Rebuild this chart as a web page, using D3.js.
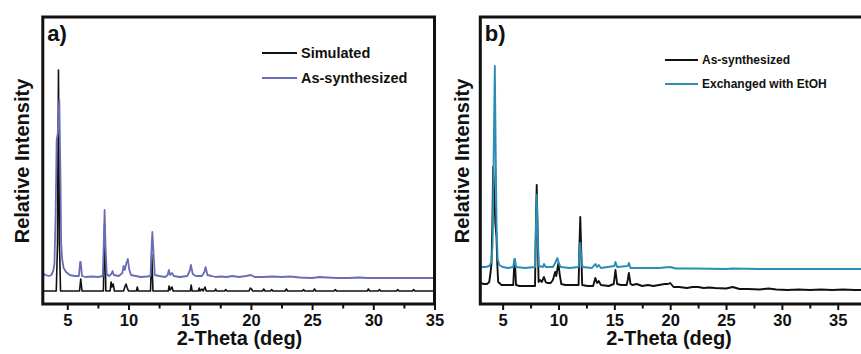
<!DOCTYPE html>
<html>
<head>
<meta charset="utf-8">
<script src="https://cdn.jsdelivr.net/npm/d3@7"></script>
<style>
  html, body { margin: 0; padding: 0; background: #fff; }
  svg { display: block; }
  text { font-family: "Liberation Sans", Arial, sans-serif; font-weight: bold; fill: #111; }
</style>
</head>
<body>
<svg id="chart" width="861" height="354"></svg>
<script>
// Powder X-ray diffraction patterns, [2-theta (deg), relative intensity (a.u.)]

// Panel a: simulated pattern
const simulatedA = [
  [3.0,13],[4.1,13],[4.2,60],[4.28,234],[4.36,60],[4.45,13],
  [6.0,13],[6.1,25],[6.2,13],
  [7.95,13],[8.05,80],[8.15,13],
  [8.5,13],[8.58,22],[8.65,17],[8.75,20],[8.85,13],
  [9.6,13],[9.7,17],[9.8,20],[9.9,16],[10.0,13],
  [10.65,13],[10.72,17],[10.8,13],
  [11.8,13],[11.9,50],[12.0,13],
  [13.25,13],[13.32,18],[13.4,14],[13.55,17],[13.65,13],
  [15.05,13],[15.12,19],[15.2,13],
  [15.7,13],[15.78,16],[15.85,13],[16.0,15],[16.1,13],[16.25,17],[16.35,13],
  [17.05,13],[17.12,15],[17.2,13],
  [17.85,13],[17.95,14.5],[18.05,13],
  [19.85,13],[19.95,16],[20.05,15],[20.15,13],
  [20.95,13],[21.05,15],[21.15,13],
  [21.6,13],[21.7,14.5],[21.8,13],
  [22.8,13],[22.9,15],[23.0,13],
  [24.2,13],[24.3,14.5],[24.4,13],
  [25.1,13],[25.2,15],[25.3,13],
  [26.8,13],[26.9,14.5],[27.0,13],
  [29.5,13],[29.6,15],[29.7,13],
  [30.4,13],[30.5,14.5],[30.6,13],
  [31.9,13],[32.0,14.5],[32.1,13],
  [33.2,13],[33.3,14.5],[33.4,13],
  [35.0,13]
];

// Panel a: as-synthesized pattern
const synthesizedA = [
  [3.0,31],[3.2,29],[3.5,28],[3.7,29],[3.85,33],[3.95,40],[4.05,90],[4.13,164],[4.22,170],
  [4.35,204],[4.45,120],[4.5,61],[4.58,45],[4.7,36],[4.9,32],[5.2,29],[5.6,28],
  [5.95,28],[6.05,42],[6.1,42],[6.2,28],[6.5,27],[7.0,27.5],[7.5,27],
  [7.9,28],[7.98,60],[8.05,94],[8.12,60],[8.22,30],[8.4,28],[8.6,30],[8.7,33],[8.8,29],
  [9.2,28],[9.5,31],[9.6,38],[9.7,34],[9.85,42],[9.95,45],[10.05,35],[10.2,29],
  [10.6,28],[11.0,27],[11.5,27.5],[11.8,28],[11.9,60],[11.95,72],[12.05,50],[12.15,29],
  [12.5,28],[13.0,27],[13.2,29],[13.3,34],[13.4,29],[13.55,31],[13.7,28],
  [14.2,27],[14.8,28],[15.0,33],[15.1,39],[15.25,30],[15.5,28],
  [16.0,28],[16.2,32],[16.3,37],[16.45,29],[16.8,28],[17.1,27],[17.6,27.5],
  [18.0,27],[18.5,28],[19.0,27],[19.6,28],[20.0,29],[20.3,27],
  [21.0,27],[21.8,27.5],[22.5,27],[23.2,27.5],[24.0,26.5],[25.0,26],[25.6,27],
  [26.2,26.5],[27.0,26],[28.0,26],[28.8,26.5],[29.5,26],[30.5,26],[31.5,26],
  [32.5,26],[33.5,26],[35.0,26]
];

// Panel b: as-synthesized pattern
const synthesizedB = [
  [3.0,21],[3.3,20],[3.6,20],[3.8,22],[3.9,30],[4.0,40],[4.08,80],[4.15,137],
  [4.25,110],[4.35,80],[4.45,67],[4.52,40],[4.6,22],[4.9,19],[5.5,19],[5.95,19],
  [6.05,42],[6.1,42],[6.2,19],[6.5,18],[7.2,18],[7.9,18],
  [7.98,80],[8.05,119],[8.12,80],[8.22,22],[8.35,24],[8.5,22],[8.7,27],[8.85,22],
  [9.0,21],[9.3,21],[9.5,24],[9.7,32],[9.8,28],[9.9,35],[10.0,41],[10.1,30],[10.25,20],
  [10.6,19],[11.2,19],[11.8,19],[11.88,60],[11.95,87],[12.02,60],[12.12,19],
  [12.6,18],[13.1,18],[13.2,22],[13.3,26],[13.45,21],[13.6,23],[13.8,19],
  [14.5,18],[14.95,20],[15.1,34],[15.25,20],[15.6,19],[16.1,19],
  [16.2,24],[16.3,31],[16.45,20],[16.6,19],[17.0,20],[17.5,18],[18.0,19],
  [18.5,18],[19.0,19],[19.5,20],[19.8,20],[20.0,21],[20.3,17],[20.8,17],
  [21.5,16],[22.0,17],[22.5,17],[23.0,16],[23.5,16.5],[24.0,16],[25.0,15.5],
  [25.6,17],[26.2,15],[27.0,15],[28.0,14.5],[28.8,15.5],[29.5,14.5],[30.5,14],
  [31.5,14.5],[32.5,14],[33.5,14.5],[34.5,14],[35.5,14.5],[36.5,14],[37.5,14],[40.0,14]
];

// Panel b: after ethanol exchange
const exchangedB = [
  [3.0,37],[3.5,37],[3.8,38],[4.0,42],[4.1,60],[4.2,150],[4.3,238],[4.38,150],
  [4.45,80],[4.55,45],[4.7,39],[5.0,37],[5.5,36],[5.95,37],[6.05,45],[6.1,45],[6.2,37],
  [7.0,36],[7.9,37],[7.97,70],[8.05,109],[8.13,70],[8.25,38],[8.6,37],[8.7,40],[8.85,37],
  [9.5,37],[9.7,41],[9.9,46],[10.05,40],[10.2,37],[11.0,36],[11.8,37],
  [11.88,50],[11.95,61],[12.05,45],[12.15,37],[13.0,36],[13.3,40],[13.45,37],
  [13.6,39],[13.8,36],[15.0,38],[15.1,42],[15.25,37],[16.2,38],[16.3,41],[16.45,36],
  [17.0,36],[18.0,36],[19.0,36],[20.0,37],[20.5,35.5],[22.0,35.5],[25.0,35],
  [25.6,35.5],[28.0,35],[30.0,35],[33.0,35],[36.0,35],[40.0,35]
];

const majorTicks = [5, 10, 15, 20, 25, 30, 35, 40];
const minorTicks = [2.5, 7.5, 12.5, 17.5, 22.5, 27.5, 32.5, 37.5];

const width = 861;
const panels = [
  {
    id: "a", tag: "a)", left: 42.8, right: 434.5, domain: [3, 35],
    series: [
      { name: "Simulated", data: simulatedA, color: "#111111", width: 1.6 },
      { name: "As-synthesized", data: synthesizedA, color: "#6a6db5", width: 1.8 }
    ],
    legend: { x1: 262, x2: 297, y0: 53, dy: 25, size: 14.5 },
    ylabelX: 29, titleX: 239.5
  },
  {
    id: "b", tag: "b)", left: 480.3, right: 480.3 + 37 * 11.17, domain: [3, 40],
    series: [
      { name: "As-synthesized", data: synthesizedB, color: "#111111", width: 1.9 },
      { name: "Exchanged with EtOH", data: exchangedB, color: "#2a8db3", width: 1.9 }
    ],
    legend: { x1: 665, x2: 698, y0: 60, dy: 24, size: 12 },
    ylabelX: 469, titleX: 669
  }
];

const plotTop = 17, plotBottom = 304;
const svg = d3.select("#chart");

panels.forEach(p => {
  const x = d3.scaleLinear().domain(p.domain).range([p.left, p.right]);
  const y = d3.scaleLinear().domain([0, plotBottom - plotTop]).range([plotBottom, plotTop]);
  const g = svg.append("g");

  g.append("clipPath").attr("id", "clip-" + p.id)
    .append("rect").attr("x", p.left).attr("y", plotTop)
    .attr("width", p.right - p.left).attr("height", plotBottom - plotTop);

  const line = d3.line().x(d => x(d[0])).y(d => y(d[1]));
  const plot = g.append("g").attr("clip-path", `url(#clip-${p.id})`);
  p.series.forEach(s => {
    plot.append("path").datum(s.data)
      .attr("fill", "none").attr("stroke", s.color)
      .attr("stroke-width", s.width).attr("stroke-linejoin", "round")
      .attr("d", line);
  });

  // bottom axis: major ticks with labels, minor ticks without (only those inside the page)
  const visible = v => v >= p.domain[0] && v <= p.domain[1] && x(v) < width - 8;
  const major = g.append("g").attr("transform", `translate(0,${plotBottom})`)
    .call(d3.axisBottom(x).tickValues(majorTicks.filter(visible)).tickSize(6).tickSizeOuter(0));
  major.select(".domain").remove();
  major.selectAll(".tick line").attr("stroke", "#111").attr("stroke-width", 2);
  major.selectAll(".tick text").attr("y", 10).attr("font-size", 16.5)
    .attr("font-family", "Liberation Sans, Arial, sans-serif").attr("font-weight", "bold").attr("fill", "#111");

  const minor = g.append("g").attr("transform", `translate(0,${plotBottom})`)
    .call(d3.axisBottom(x).tickValues(minorTicks.filter(visible)).tickSize(4.5).tickSizeOuter(0).tickFormat(""));
  minor.select(".domain").remove();
  minor.selectAll(".tick line").attr("stroke", "#111").attr("stroke-width", 2);

  // frame
  g.append("rect").attr("x", p.left).attr("y", plotTop)
    .attr("width", p.right - p.left).attr("height", plotBottom - plotTop)
    .attr("fill", "none").attr("stroke", "#111").attr("stroke-width", 3);

  // panel tag
  g.append("text").attr("x", p.left + 4.5).attr("y", plotTop + 24)
    .attr("font-size", 22).text(p.tag);

  // axis titles
  g.append("text").attr("x", p.titleX)
    .attr("y", 345).attr("text-anchor", "middle").attr("font-size", 20).text("2-Theta (deg)");
  g.append("text").attr("transform", `translate(${p.ylabelX},161) rotate(-90)`)
    .attr("text-anchor", "middle").attr("font-size", 20).text("Relative Intensity");

  // legend
  const lg = g.append("g");
  p.series.forEach((s, i) => {
    const ly = p.legend.y0 + i * p.legend.dy;
    lg.append("line").attr("x1", p.legend.x1).attr("x2", p.legend.x2)
      .attr("y1", ly).attr("y2", ly).attr("stroke", s.color).attr("stroke-width", 2);
    lg.append("text").attr("x", p.legend.x2 + 4).attr("y", ly)
      .attr("dy", "0.35em").attr("font-size", p.legend.size).text(s.name);
  });
});
</script>
</body>
</html>
